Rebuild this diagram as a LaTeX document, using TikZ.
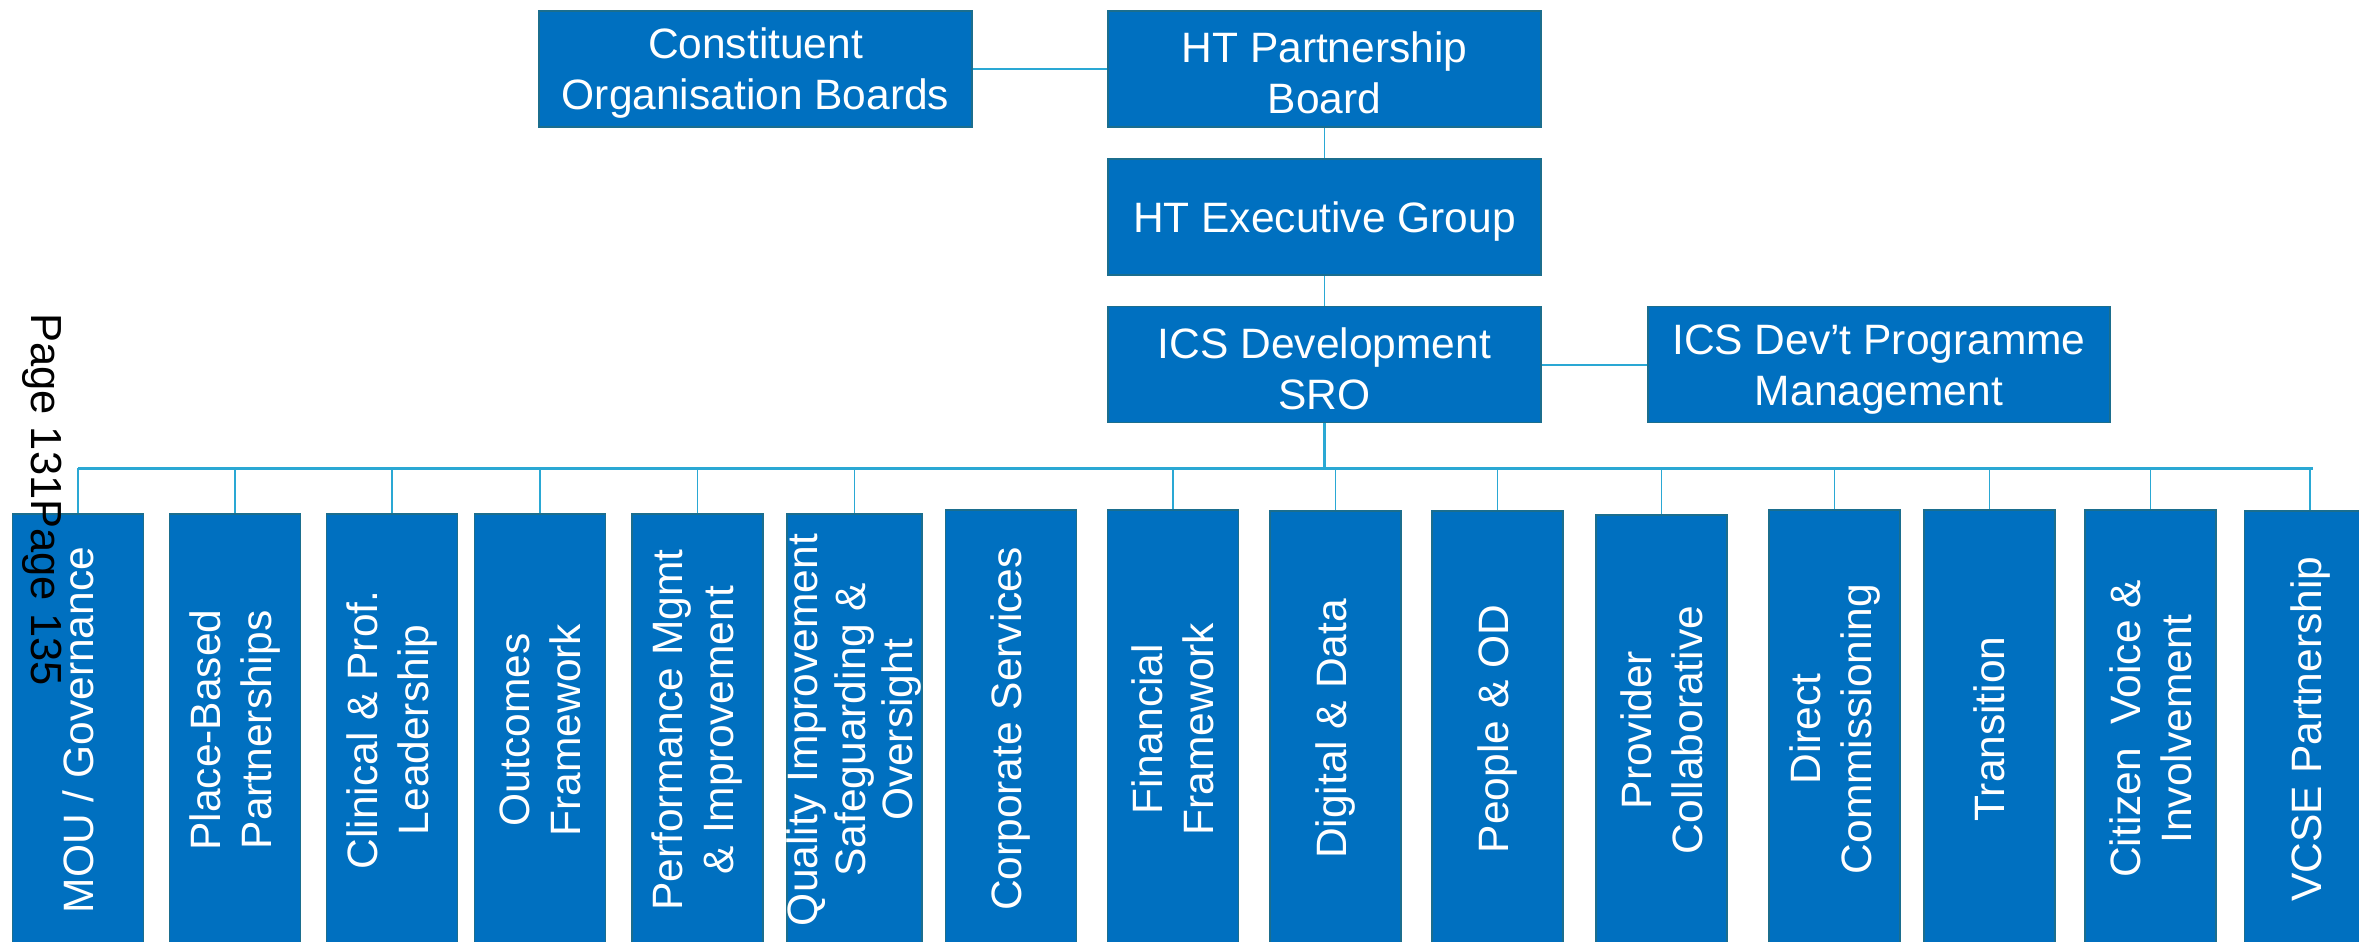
\documentclass[tikz,border=0pt]{standalone}
\usepackage{fontspec}
\setmainfont{Liberation Sans}
\definecolor{boxblue}{HTML}{0070C0}
\definecolor{boxedge}{HTML}{1B6E8E}
\definecolor{linkblue}{HTML}{2AA8D4}
\newcommand{\topstrut}{\rule{0pt}{39pt}}
\tikzset{
  topbox/.style={draw=boxedge, line width=1.5pt, fill=boxblue, text=white, align=center,
    inner sep=0pt, minimum height=116pt, font=\fontsize{42.5}{51}\selectfont},
  leaf/.style={draw=boxedge, line width=1.5pt, fill=boxblue, text=white, align=center,
    inner sep=0pt, rotate=90, minimum height=131pt, font=\fontsize{42.5}{51}\selectfont},
  link/.style={draw=linkblue, line width=1.6pt},
  buslink/.style={draw=linkblue, line width=3pt},
}
\begin{document}
\begin{tikzpicture}[x=1pt,y=-1pt]
\useasboundingbox (0,0) rectangle (2359,942);
\clip (0,0) rectangle (2359,942);
% top boxes
\node[topbox, minimum width=433pt] (cob) at (755.5,69) {\topstrut Constituent\\Organisation Boards};
\node[topbox, minimum width=433pt] (htpb) at (1324.5,69) {\topstrut HT Partnership\\Board};
\node[topbox, minimum width=433pt] (hteg) at (1324.5,217) {\topstrut HT Executive Group};
\node[topbox, minimum width=433pt] (sro) at (1324.5,364.5) {\topstrut ICS Development\\SRO};
\node[topbox, minimum width=462pt] (pm) at (1879,364.5) {\topstrut ICS Dev’t Programme\\Management};
% leaf boxes (rotated)
\node[leaf, minimum width=432pt] (l1) at (78,730) {MOU / Governance};
\node[leaf, minimum width=432pt] (l2) at (235,730) {Place-Based\\Partnerships};
\node[leaf, minimum width=432pt] (l3) at (392,730) {Clinical \& Prof.\\Leadership};
\node[leaf, minimum width=432pt] (l4) at (540,730) {Outcomes\\Framework};
\node[leaf, minimum width=432pt] (l5) at (697.5,730) {Performance Mgmt\\\& Improvement};
\node[leaf, minimum width=432pt, font=\fontsize{42.5}{47.5}\selectfont] (l6) at (854.5,730) {Quality Improvement\\Safeguarding \&\\Oversight};
\node[leaf, minimum width=438pt] (l7) at (1011,729) {Corporate Services};
\node[leaf, minimum width=438pt] (l8) at (1173,729) {Financial\\Framework};
\node[leaf, minimum width=436pt] (l9) at (1335.5,729) {Digital \& Data};
\node[leaf, minimum width=436pt] (l10) at (1497.5,729) {People \& OD};
\node[leaf, minimum width=430pt] (l11) at (1661.5,730) {Provider\\Collaborative};
\node[leaf, minimum width=438pt] (l12) at (1834.5,729) {Direct\\Commissioning};
\node[leaf, minimum width=438pt] (l13) at (1989.5,729) {Transition};
\node[leaf, minimum width=438pt] (l14) at (2150.5,729) {Citizen\ \ Voice \&\\Involvement};
\node[leaf, minimum width=436pt] (l15) at (2310,729) {VCSE Partnership};
% connectors
\coordinate (busL) at (78,468);
\coordinate (busR) at (2313,468);
\coordinate (busM) at (sro.south |- busL);
\draw[buslink] (busL) -- (busR);
\draw[link, line width=2.2pt] (sro.south) -- (busM);
\draw[link] (cob.east) -- (htpb.west);
\draw[link] (htpb.south) -- (hteg.north);
\draw[link] (hteg.south) -- (sro.north);
\draw[link, line width=2pt] (sro.east) -- (pm.west);
\foreach \n in {l1,l2,l3,l4,l5,l6,l8,l9,l10,l11,l12,l13,l14,l15}{
  \draw[link] (\n.east |- busL) -- (\n.east);
}
% page stamp
\node[rotate=-90, anchor=base west, inner sep=0pt, font=\fontsize{43.5}{50}\selectfont] (pg) at (31,313) {Page 131Page 135};
\end{tikzpicture}
\end{document}
